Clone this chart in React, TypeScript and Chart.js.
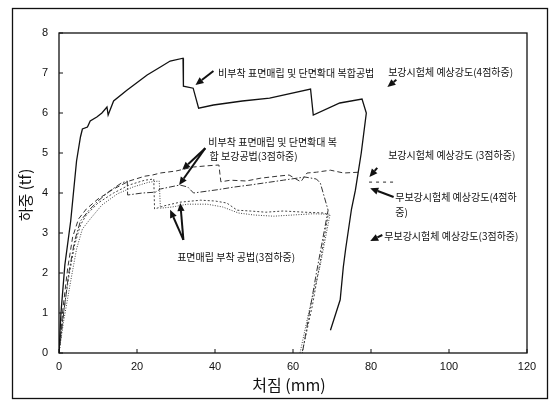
import React, { useEffect, useRef } from "react";
import { Chart, registerables } from "chart.js";

Chart.register(...registerables);

// ---- axis ticks ----
const xTickValues = [0, 20, 40, 60, 80, 100, 120];
const yTickValues = [0, 1, 2, 3, 4, 5, 6, 7, 8];

// ---- 비부착 표면매립 및 단면확대 복합공법 (4점하중) : solid ----
const compositeX = [0, 0.5, 1.5, 3, 3.6, 4.5, 5.5, 6, 7.3, 8, 9.7, 11, 12.3, 12.6, 14, 17.4, 22.6, 26, 28.5, 31.8, 31.9, 34.4, 35.8, 39.6, 47, 54, 64.5, 65.2, 72, 77.7, 78.8, 77.5, 76, 75, 73.5, 72.9, 72.1, 69.6];
const compositeY = [0, 1.0, 2.2, 3.3, 3.9, 4.8, 5.4, 5.6, 5.65, 5.8, 5.9, 6.0, 6.15, 5.95, 6.3, 6.57, 6.95, 7.15, 7.3, 7.37, 6.67, 6.62, 6.12, 6.2, 6.3, 6.37, 6.6, 5.95, 6.25, 6.35, 6.0, 5.0, 4.07, 3.6, 2.6, 2.15, 1.33, 0.57];

// ---- 비부착 ... 복합 보강공법 (3점하중) #1 : dashed ----
const nonBondAX = [0, 1, 2.2, 3.5, 5, 7, 10, 14, 18, 22, 24, 26, 30, 34.5, 38, 41, 41.5, 44, 48, 51.7, 56, 59, 62, 63.6, 66, 69.6, 73, 77];
const nonBondAY = [0, 1.1, 2.1, 2.9, 3.35, 3.6, 3.85, 4.1, 4.3, 4.42, 4.45, 4.5, 4.55, 4.65, 4.68, 4.7, 4.28, 4.32, 4.3, 4.37, 4.42, 4.45, 4.28, 4.5, 4.52, 4.57, 4.5, 4.52];

// ---- 비부착 ... 복합 보강공법 (3점하중) #2 : dash-dot ----
const nonBondBX = [0, 1.2, 2.5, 4, 5.5, 7.5, 10, 13, 16, 17.5, 17.6, 21.4, 24.7, 26, 31, 33, 34.5, 40.5, 45, 49, 57.5, 63, 66, 67, 69, 66, 62.4];
const nonBondBY = [0, 1.0, 2.0, 2.8, 3.3, 3.55, 3.8, 4.05, 4.25, 4.3, 3.95, 4.0, 4.02, 4.1, 4.2, 4.15, 4.0, 4.08, 4.15, 4.2, 4.32, 4.4, 4.35, 4.25, 3.57, 2.0, 0];

// ---- 표면매립 부착 공법 (3점하중) #1 : dotted ----
const bondAX = [0, 1, 2.5, 4, 5.5, 7, 10, 14, 18, 22, 24.3, 24.5, 27, 31, 36.3, 40, 43, 45.7, 49, 53, 57.5, 63, 68, 69, 67, 65, 62.3];
const bondAY = [0, 0.9, 1.9, 2.7, 3.2, 3.45, 3.75, 4.0, 4.2, 4.32, 4.35, 3.6, 3.68, 3.77, 3.82, 3.8, 3.75, 3.57, 3.55, 3.52, 3.55, 3.52, 3.5, 3.45, 2.3, 1.2, 0];

// ---- 표면매립 부착 공법 (3점하중) #2 : fine dotted ----
const bondBX = [0, 1.2, 3, 4.5, 6, 8, 11, 15, 19, 23, 25.7, 26, 29, 33, 38, 42, 46, 50, 55, 60, 65, 69.5, 67, 64, 61.8];
const bondBY = [0, 0.8, 1.8, 2.6, 3.1, 3.35, 3.7, 3.98, 4.15, 4.27, 4.3, 3.62, 3.65, 3.72, 3.72, 3.65, 3.5, 3.45, 3.42, 3.45, 3.48, 3.47, 2.2, 1.0, 0];

// ---- 예상강도 mark ----
const predictedX = [79.5, 86.5];
const predictedY = [4.27, 4.27];

// ---- annotation texts (data coords of left/middle of text) ----
const noteTexts = [
  "비부착 표면매립 및 단면확대 복합공법",
  "보강시험체 예상강도(4점하중)",
  "비부착 표면매립 및 단면확대 복",
  "합 보강공법(3점하중)",
  "보강시험체 예상강도 (3점하중)",
  "무보강시험체 예상강도(4점하",
  "중)",
  "무보강시험체 예상강도(3점하중)",
  "표면매립 부착 공법(3점하중)",
];
const noteX = [40.8, 84.4, 38.3, 38.6, 84.4, 86.2, 86.2, 83.4, 30.3];
const noteY = [7.0, 7.02, 5.28, 4.93, 4.95, 3.9, 3.52, 2.93, 2.4];

// ---- arrows (data coords) ----
const arrowFromX = [39.6, 86.5, 37.5, 37.5, 81.6, 85.8, 82.9, 31.9, 31.9];
const arrowFromY = [7.05, 6.83, 5.12, 5.12, 4.63, 3.9, 2.95, 2.83, 2.83];
const arrowToX = [35.0, 84.2, 31.6, 30.8, 79.6, 79.8, 79.8, 28.5, 31.1];
const arrowToY = [6.7, 6.65, 4.58, 4.2, 4.4, 4.12, 2.8, 3.58, 3.75];

const xTitle = "처짐 (mm)";
const yTitle = "하중 (tf)";

const pts = (xs: number[], ys: number[]) => xs.map((x, i) => ({ x, y: ys[i] }));

function drawArrow(ctx: CanvasRenderingContext2D, x1: number, y1: number, x2: number, y2: number) {
  const ang = Math.atan2(y2 - y1, x2 - x1);
  const head = 8;
  const hw = 3.6;
  const bx = x2 - head * Math.cos(ang);
  const by = y2 - head * Math.sin(ang);
  ctx.beginPath();
  ctx.lineWidth = 2;
  ctx.moveTo(x1, y1);
  ctx.lineTo(bx, by);
  ctx.stroke();
  ctx.beginPath();
  ctx.moveTo(x2, y2);
  ctx.lineTo(bx + hw * Math.sin(ang), by - hw * Math.cos(ang));
  ctx.lineTo(bx - hw * Math.sin(ang), by + hw * Math.cos(ang));
  ctx.closePath();
  ctx.fill();
}

const overlayPlugin = {
  id: "overlay",
  afterDraw(chart: any) {
    const { ctx, chartArea: ca, scales } = chart;
    const xs = scales.x;
    const ys = scales.y;
    ctx.save();
    ctx.strokeStyle = "#111";
    ctx.fillStyle = "#111";
    // outer frame
    ctx.lineWidth = 1.3;
    ctx.strokeRect(12.5, 8.5, 535, 390);
    // plot box
    ctx.lineWidth = 1.3;
    ctx.strokeRect(ca.left, ca.top, ca.right - ca.left, ca.bottom - ca.top);
    // inward ticks
    ctx.lineWidth = 1;
    ctx.beginPath();
    xTickValues.forEach((v) => {
      const px = xs.getPixelForValue(v);
      ctx.moveTo(px, ca.bottom);
      ctx.lineTo(px, ca.bottom - 4);
    });
    yTickValues.forEach((v) => {
      const py = ys.getPixelForValue(v);
      ctx.moveTo(ca.left, py);
      ctx.lineTo(ca.left + 4, py);
    });
    ctx.stroke();
    // notes
    ctx.font = "10px 'Noto Sans CJK KR'";
    ctx.textBaseline = "middle";
    ctx.textAlign = "left";
    noteTexts.forEach((t, i) => {
      ctx.fillText(t, xs.getPixelForValue(noteX[i]), ys.getPixelForValue(noteY[i]));
    });
    // arrows
    arrowFromX.forEach((_, i) => {
      drawArrow(
        ctx,
        xs.getPixelForValue(arrowFromX[i]),
        ys.getPixelForValue(arrowFromY[i]),
        xs.getPixelForValue(arrowToX[i]),
        ys.getPixelForValue(arrowToY[i])
      );
    });
    // axis titles
    ctx.textAlign = "center";
    ctx.font = "16px 'Noto Sans CJK KR'";
    ctx.fillText(xTitle, (ca.left + ca.right) / 2 - 4, 385);
    ctx.save();
    ctx.translate(25, (ca.top + ca.bottom) / 2 + 2);
    ctx.rotate(-Math.PI / 2);
    ctx.font = "15px 'Noto Sans CJK KR'";
    ctx.fillText(yTitle, 0, 0);
    ctx.restore();
    ctx.restore();
  },
};

export default function App() {
  const canvasRef = useRef<HTMLCanvasElement | null>(null);

  useEffect(() => {
    if (!canvasRef.current) return;
    const line = (data: any[], dash: number[], width: number, color: string) => ({
      data,
      borderColor: color,
      borderWidth: width,
      borderDash: dash,
      pointRadius: 0,
      fill: false,
      tension: 0,
      showLine: true,
    });
    const chart = new Chart(canvasRef.current, {
      type: "line",
      data: {
        datasets: [
          line(pts(compositeX, compositeY), [], 1.3, "#111"),
          line(pts(nonBondAX, nonBondAY), [5, 3], 1, "#333"),
          line(pts(nonBondBX, nonBondBY), [6, 2, 1.5, 2], 1, "#333"),
          line(pts(bondAX, bondAY), [2, 2], 1, "#444"),
          line(pts(bondBX, bondBY), [1, 1.5], 1, "#444"),
          line(pts(predictedX, predictedY), [3, 4], 1.2, "#555"),
        ],
      },
      options: {
        animation: false,
        responsive: true,
        maintainAspectRatio: false,
        devicePixelRatio: 1,
        layout: { padding: { left: 8, top: 33, right: 28, bottom: 0 } },
        plugins: { legend: { display: false }, tooltip: { enabled: false } },
        scales: {
          x: {
            type: "linear",
            min: 0,
            max: 120,
            afterFit: (s: any) => { s.height = 49; },
            afterBuildTicks: (s: any) => { s.ticks = xTickValues.map((v) => ({ value: v })); },
            grid: { display: false, drawTicks: false },
            border: { display: false },
            ticks: {
              padding: 7,
              color: "#111",
              font: { family: "'Liberation Sans', Arial", size: 11 },
            },
          },
          y: {
            type: "linear",
            min: 0,
            max: 8,
            afterFit: (s: any) => { s.width = 51; },
            afterBuildTicks: (s: any) => { s.ticks = yTickValues.map((v) => ({ value: v })); },
            grid: { display: false, drawTicks: false },
            border: { display: false },
            ticks: {
              padding: 11,
              color: "#111",
              font: { family: "'Liberation Sans', Arial", size: 11 },
            },
          },
        },
      },
      plugins: [overlayPlugin],
    });
    return () => chart.destroy();
  }, []);

  return (
    <div style={{ position: "fixed", left: 0, top: 0, width: 555, height: 402, background: "#fff" }}>
      <canvas ref={canvasRef} />
    </div>
  );
}
